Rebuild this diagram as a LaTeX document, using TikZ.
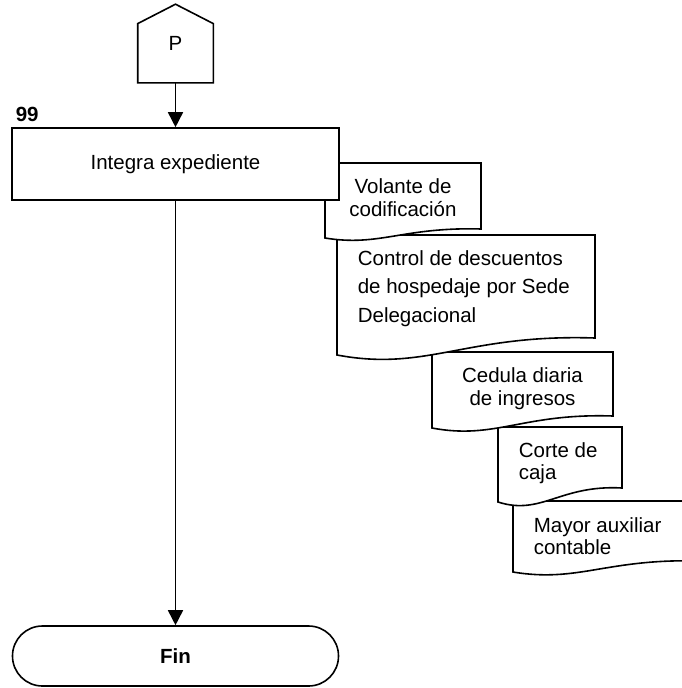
\documentclass[tikz,border=0pt]{standalone}
\usepackage{fontspec}
\setmainfont{Liberation Sans}
\usetikzlibrary{arrows.meta,calc}

% Document symbol: left, top, right, bottom-left y, bottom-right y
\newcommand\docshape[5]{%
  \pgfmathsetmacro\dsw{#3-#1}%
  \pgfmathsetmacro\dsd{#4-#5}%
  \pgfmathsetmacro\dsax{#1+0.35*\dsw}%
  \pgfmathsetmacro\dsay{#4+1.0*\dsd}%
  \pgfmathsetmacro\dsbx{#1+0.5*\dsw}%
  \pgfmathsetmacro\dsby{#5-0.25*\dsd}%
  \draw[docline] (#1,#2) -- (#3,#2) -- (#3,#5)
    .. controls (\dsbx,\dsby) and (\dsax,\dsay) .. (#1,#4) -- cycle;}

\begin{document}
\begin{tikzpicture}[x=1pt,y=-1pt,line width=1.6pt,
  txt/.style={font=\fontsize{20.5}{23}\selectfont,inner sep=0pt},
  boldtxt/.style={font=\fontsize{20.5}{23}\selectfont\bfseries,inner sep=0pt},
  arr/.style={-{Triangle[length=15pt,width=15pt]}},
  docline/.style={fill=white,line join=miter},
  procbox/.style={draw,fill=white,txt,minimum width=327pt,minimum height=72pt},
  endbox/.style={draw,fill=white,boldtxt,rounded corners=29.9pt,minimum width=326pt,minimum height=60pt}]
\useasboundingbox (0,0) rectangle (682,688);
\clip (0,0) rectangle (682,688);

% off-page connector
\node[txt,minimum width=74pt,minimum height=77pt] (p) at (175.5,43.5) {P};
\draw (p.south west) -- ($(p.south west)!0.753!(p.north west)$) -- (p.north)
  -- ($(p.south east)!0.753!(p.north east)$) -- (p.south east) -- cycle;

% stacked documents, lowest first
\docshape{513}{501}{700}{572}{561}
\node[txt,anchor=base west] (d5a) at (533,532) {Mayor auxiliar};
\node[txt,anchor=base west] (d5b) at (533,554) {contable};

\docshape{498}{427}{622}{502}{488}
\node[txt,anchor=base west] (d4a) at (518,457) {Corte de};
\node[txt,anchor=base west] (d4b) at (518,479) {caja};

\docshape{432}{352}{613}{428}{416}
\node[txt,anchor=base] (d3a) at (522.5,382) {Cedula diaria};
\node[txt,anchor=base] (d3b) at (522.5,405) {de ingresos};

\docshape{337}{235}{595}{355}{338}
\node[txt,anchor=base west] (d2a) at (357,265) {Control de descuentos};
\node[txt,anchor=base west] (d2b) at (357,293.5) {de hospedaje por Sede};
\node[txt,anchor=base west] (d2c) at (357,322) {Delegacional};

\docshape{325}{163}{481}{238}{229}
\node[txt,anchor=base] (d1a) at (403,193) {Volante de};
\node[txt,anchor=base] (d1b) at (403,216) {codificación};

% process step
\node[procbox] (box) at (175.5,164) {Integra expediente};
\node[boldtxt,anchor=base west] (num) at (15,121) {99};

% terminal
\node[endbox] (fin) at (175.5,656) {Fin};

% flow
\draw[arr] (p.south) -- (box.north);
\draw[arr] (box.south) -- (fin.north);
\end{tikzpicture}
\end{document}
